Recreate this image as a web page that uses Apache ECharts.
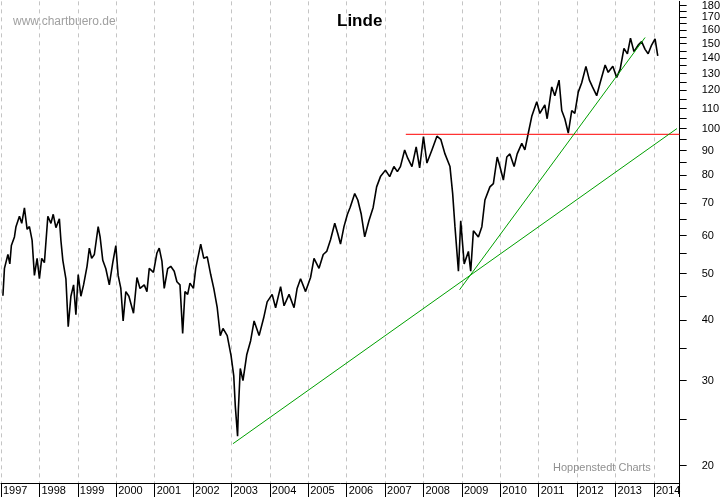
<!DOCTYPE html>
<html><head><meta charset="utf-8">
<script src="https://cdn.jsdelivr.net/npm/echarts@6/dist/echarts.min.js"></script>
<style>html,body{margin:0;padding:0;background:#fff}#c{width:723px;height:497px}</style>
</head><body><div id="c"></div>
<script>
// Linde share price, decimal year vs. price (EUR)
var years = [1997.05,1997.09,1997.18,1997.23,1997.27,1997.35,1997.39,1997.48,1997.54,1997.61,1997.68,1997.74,1997.81,1997.87,1997.94,
  1998.0,1998.06,1998.13,1998.22,1998.30,1998.36,1998.43,1998.52,1998.56,1998.61,1998.69,1998.75,1998.82,1998.89,1998.95,
  1999.01,1999.08,1999.15,1999.24,1999.30,1999.36,1999.43,1999.53,1999.58,1999.65,1999.73,1999.82,1999.91,1999.99,
  2000.05,2000.12,2000.18,2000.25,2000.33,2000.45,2000.54,2000.62,2000.73,2000.80,2000.86,2000.97,
  2001.06,2001.12,2001.19,2001.25,2001.34,2001.42,2001.51,2001.58,2001.66,2001.73,2001.79,2001.86,2001.92,
  2002.01,2002.07,2002.20,2002.28,2002.37,2002.46,2002.54,2002.63,2002.71,2002.78,2002.89,2002.99,
  2003.06,2003.10,2003.16,2003.18,2003.23,2003.30,2003.40,2003.50,2003.59,2003.72,2003.84,2003.93,
  2004.06,2004.15,2004.28,2004.37,2004.50,2004.63,2004.71,2004.80,2004.93,
  2005.06,2005.15,2005.28,2005.39,2005.48,2005.58,2005.69,2005.77,2005.84,2005.93,
  2006.02,2006.09,2006.21,2006.29,2006.38,2006.47,2006.58,2006.69,2006.78,2006.88,
  2007.01,2007.12,2007.23,2007.32,2007.40,2007.51,2007.59,2007.70,2007.81,2007.90,
  2008.00,2008.09,2008.22,2008.35,2008.45,2008.56,2008.69,2008.76,2008.82,2008.91,2008.97,
  2009.06,2009.17,2009.23,2009.30,2009.43,2009.52,2009.60,2009.73,2009.82,2009.92,2009.99,
  2010.08,2010.17,2010.25,2010.36,2010.44,2010.56,2010.64,2010.73,2010.82,2010.95,
  2011.03,2011.16,2011.22,2011.34,2011.42,2011.53,2011.60,2011.68,2011.77,2011.86,2011.94,
  2012.03,2012.12,2012.23,2012.32,2012.40,2012.51,2012.60,2012.73,2012.81,2012.93,
  2013.03,2013.12,2013.22,2013.31,2013.39,2013.48,2013.59,2013.68,2013.77,2013.85,2013.94,2014.03,2014.10];
var prices = [45.0,51.3,54.8,52.4,57.2,59.6,62.6,65.8,63.6,68.5,61.8,62.6,58.6,49.6,53.8,
  48.8,53.8,52.7,65.8,63.6,66.4,62.3,65.0,58.6,53.3,48.8,38.8,44.9,47.4,41.1,
  49.8,44.9,47.4,51.8,56.5,53.8,54.8,62.6,59.6,53.3,51.2,47.4,52.7,57.2,
  49.6,46.6,39.9,45.9,44.9,41.4,49.1,46.6,47.4,45.9,51.3,50.3,
  55.2,56.5,53.1,46.6,51.2,51.8,50.6,48.1,47.4,37.6,45.9,45.3,47.8,
  46.6,51.3,57.6,53.8,54.2,49.8,46.6,42.5,37.2,38.5,37.2,33.8,
  30.7,26.6,23.0,26.1,31.8,30.0,34.0,36.3,39.9,37.2,40.5,43.7,
  45.3,42.5,47.0,42.9,45.3,42.5,46.6,48.8,45.9,
  49.1,53.8,51.3,54.8,55.6,58.8,63.6,60.5,57.6,62.6,
  66.4,68.6,73.3,71.1,66.4,59.6,64.4,68.6,75.7,79.5,
  82.0,79.5,83.4,81.4,83.4,90.3,86.8,83.4,91.6,82.9,
  96.2,84.8,90.3,96.4,95.0,88.6,83.4,73.3,62.6,50.6,64.4,
  52.4,55.6,50.6,61.4,59.6,62.6,71.1,75.7,76.9,87.3,83.4,
  78.2,87.3,88.6,83.4,88.6,93.2,90.3,97.9,106,113.7,
  107.5,112,104.8,122,117,126,109,104.8,97.9,109,107.5,
  119,124.5,134.6,126,122,117,124.5,135.5,130.8,134.6,
  127.7,132.7,146.7,142.9,154,144.4,149,151.5,146,142.9,149,153.5,141.5];
var resistance = [[2007.54, 97.3], [2014.67, 97.3]];
var trendLong = [[2003.04, 22.2], [2014.60, 100]];
var trendShort = [[2008.94, 46.3], [2013.77, 154.5]];
var yLabels = [20,30,40,50,60,70,80,90,100,110,120,130,140,150,160,170,180];
var yTicks = [20,25,30,35,40,45,50,55,60,65,70,75,80,85,90,95,100,105,110,115,120,125,130,135,140,145,150,155,160,165,170,175,180];

var priceData = [];
for (var i = 0; i < years.length; i++) priceData.push([years[i], prices[i]]);

var myChart = echarts.init(document.getElementById('c'));
var option = {
  animation: false,
  backgroundColor: '#fff',
  title: [
    {text: 'Linde', left: 332, top: 8, textStyle: {fontFamily: 'Liberation Sans', fontSize: 17, fontWeight: 'bold', color: '#000'}},
    {text: 'www.chartbuero.de', left: 8, top: 11, textStyle: {fontFamily: 'Liberation Sans', fontSize: 12, fontWeight: 'normal', color: '#a0a0a0'}},
    {text: 'Hoppenstedt Charts', left: 548, top: 457, textStyle: {fontFamily: 'Liberation Sans', fontSize: 11, fontWeight: 'normal', color: '#909090'}}
  ],
  grid: {left: 0, right: 43, top: 0, bottom: 14},
  xAxis: {
    type: 'value', min: 1997, max: 2014.67, interval: 1,
    axisLine: {lineStyle: {color: '#000'}},
    axisTick: {length: 14, lineStyle: {color: '#000'}},
    axisLabel: {
      fontFamily: 'Liberation Sans', fontSize: 11, color: '#000', align: 'left', margin: 2, padding: [0, 0, 0, 2],
      formatter: function (v) { return v === Math.round(v) ? String(v) : ''; }
    },
    splitLine: {show: true, lineStyle: {color: '#c4c4c4', type: [4, 4]}}
  },
  yAxis: {
    type: 'log', logBase: 10, min: 18.4, max: 183.6, position: 'right',
    axisLine: {show: true, lineStyle: {color: '#000'}},
    axisTick: {length: 7, customValues: yTicks, lineStyle: {color: '#000'}},
    axisLabel: {customValues: yLabels, fontFamily: 'Liberation Sans', fontSize: 11, color: '#000', margin: 22},
    splitLine: {show: false}
  },
  series: [
    {type: 'line', data: priceData, symbol: 'none', lineStyle: {color: '#000', width: 1.6}},
    {type: 'line', data: resistance, symbol: 'none', lineStyle: {color: '#f00', width: 1}},
    {type: 'line', data: trendLong, symbol: 'none', lineStyle: {color: '#00a000', width: 1}},
    {type: 'line', data: trendShort, symbol: 'none', lineStyle: {color: '#00a000', width: 1}}
  ]
};
myChart.setOption(option);
</script>
</body></html>
